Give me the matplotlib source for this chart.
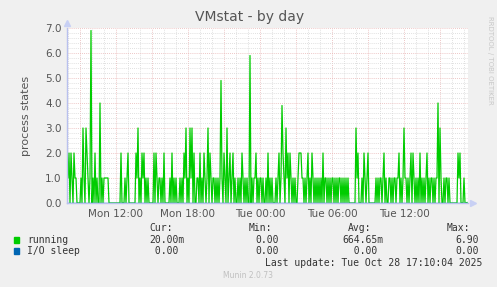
import numpy as np
import matplotlib
matplotlib.use("Agg")
import matplotlib.pyplot as plt
from matplotlib.patches import Rectangle

# running processes, one sample per 5 minutes
running = [
    2, 1, 2, 0, 2, 1, 0, 2, 1, 1, 0, 0, 0,
    0, 1, 0, 3, 1, 0, 3, 2, 1, 0,
    1, 6.9, 0, 1, 0, 2, 0, 1, 0, 0,
    4, 0, 1, 0, 1, 1, 1, 1, 1, 0,
    0, 0, 0, 0, 0, 0, 0, 0, 0, 0,
    0, 2, 0, 0, 0, 1, 0, 1, 2, 0,
    0, 0, 0, 0, 0, 0,
    2, 1, 3, 0, 1, 0, 2, 1, 2, 0, 1, 0, 1, 0,
    0, 0, 0, 0,
    2, 0, 2, 1, 0, 1, 1, 0, 1, 0, 2, 0, 0, 0, 0, 0,
    1, 0, 2, 0, 1, 0, 1, 0, 0, 0,
    1, 0, 1, 0, 2, 1, 3, 0, 1, 0,
    3, 1, 3, 0, 2, 0, 0, 1, 1, 0,
    2, 0, 1, 0, 2, 1, 0, 1, 3, 0,
    2, 1, 0, 1, 1, 0, 1, 0, 1, 0,
    1, 4.9, 1, 0, 2, 1, 0, 3, 0, 1,
    2, 0, 1, 2, 0, 1, 0, 0, 1, 0,
    1, 0, 2, 1, 0, 1, 0, 1, 0, 0,
    5.9, 0, 1, 0, 1, 1, 2, 0, 1, 0,
    1, 1, 0, 1, 0, 0, 1, 0, 2, 0,
    1, 0, 1, 0, 0, 0, 1, 0, 1, 2,
    0, 1, 3.9, 2, 1, 0, 3, 1, 2, 0,
    2, 1, 0, 1, 0, 1, 0, 0, 1, 2,
    2, 2, 1, 1, 0, 1, 0, 1, 2, 0,
    1, 0, 2, 1, 0, 1, 0, 1, 0, 1,
    0, 1, 0, 2, 0, 1, 1, 0, 1, 0,
    1, 0, 1, 1, 0, 1, 0, 1, 0, 1,
    1, 0, 1, 0, 1, 0, 1, 0, 1, 0,
    0, 0, 0, 0, 0, 0,
    3, 1, 2, 0, 0, 0, 1, 0, 2, 1, 0, 1, 2, 0,
    0, 0, 0, 0, 0, 0,
    1, 0, 1, 0, 1, 1, 0, 1, 2, 0, 1, 0, 0, 1,
    1, 0, 1, 0, 1, 1, 0, 1, 1, 2,
    0, 1, 0, 1, 3, 1, 1, 0, 1, 0,
    1, 2, 0, 2, 1, 0, 1, 0, 1, 0,
    2, 0, 1, 0, 1, 0, 1, 2, 0, 1,
    0, 1, 1, 0, 1, 0, 1, 1, 4, 0,
    3, 1, 0, 0, 1, 0, 1, 1, 0, 1,
    0, 0, 0, 0, 0, 0, 0, 0, 2, 1,
    2, 0, 0, 0, 1, 0, 0, 0.02,
]
io_sleep = [0] * len(running)

tick_hours = [12, 18, 24, 30, 36]
tick_labels = ["Mon 12:00", "Mon 18:00", "Tue 00:00", "Tue 06:00", "Tue 12:00"]
y_ticks = [0, 1, 2, 3, 4, 5, 6, 7]

legend_names = ["running", "I/O sleep"]
legend_colors = ["#00CC00", "#0066B3"]
cur = ["20.00m", " 0.00"]
mins = ["0.00", "0.00"]
avgs = ["664.65m", "  0.00"]
maxs = ["6.90", "0.00"]

W, H = 497, 287
fig = plt.figure(figsize=(W / 100, H / 100), dpi=100, facecolor="#F0F0F0")
ax = fig.add_axes([67 / W, 1 - 203 / H, 401 / W, 175 / H])
ax.set_facecolor("#FFFFFF")

t0 = 7.92
times = t0 + np.arange(len(running)) * 5 / 60
ax.plot(times, running, color="#00CC00", lw=0.9, zorder=3)
ax.plot(times, io_sleep, color="#0066B3", lw=1, zorder=3)

ax.set_xlim(t0, t0 + 401 * 5 / 60)
ax.set_ylim(0, 7.0)

# grid: minor grey every hour / 0.2, major red every 3h / 1.0
for h in np.arange(8, 42, 1):
    c = "#E8B4B4" if h % 3 == 0 else "#D6D6D6"
    ax.axvline(h, color=c, lw=0.6, ls=(0, (1, 1.5)), zorder=1)
for v in np.arange(0.2, 7.01, 0.2):
    major = abs(v - round(v)) < 1e-6
    c = "#E8B4B4" if major else "#D6D6D6"
    ax.axhline(v, color=c, lw=0.6, ls=(0, (1, 1.5)), zorder=1)

ax.set_xticks(tick_hours)
ax.set_xticklabels(tick_labels)
ax.set_yticks(y_ticks)
ax.set_yticklabels(["%.1f" % v for v in y_ticks])
ax.tick_params(length=0, labelsize=7.5, colors="#555555", pad=4)

for s in ["top", "right"]:
    ax.spines[s].set_visible(False)
for s in ["left", "bottom"]:
    ax.spines[s].set_color("#B8C0EE")
    ax.spines[s].set_linewidth(1)
    ax.spines[s].set_zorder(4)
ax.plot([0], [1.03], marker="^", ms=4, color="#C8D0F4", transform=ax.transAxes, clip_on=False)
ax.plot([1.012], [0], marker=">", ms=4, color="#C8D0F4", transform=ax.transAxes, clip_on=False)

ax.set_ylabel("process states", fontsize=8, color="#555555", labelpad=10)

fig.text(250 / W, 1 - 17 / H, "VMstat - by day", ha="center", va="center",
         fontsize=10, color="#555555")
fig.text(490 / W, 1 - 60 / H, "RRDTOOL / TOBI OETIKER", rotation=270,
         ha="center", va="center", fontsize=5, color="#C8C8C8")

mono = "DejaVu Sans Mono"
tc = "#333333"
fs = 7
hy = 1 - 228 / H
for x, s in [(149, "Cur:"), (249, "Min:"), (348, "Avg:"), (447, "Max:")]:
    fig.text(x / W, hy, s, family=mono, fontsize=fs, color=tc, va="center")

rows_y = [240, 251]
for i in range(2):
    y = 1 - rows_y[i] / H
    fig.patches.append(Rectangle((14 / W, y - 3 / H), 5 / W, 6 / H,
                                 transform=fig.transFigure, color=legend_colors[i]))
    fig.text(27 / W, y, legend_names[i], family=mono, fontsize=fs, color=tc, va="center")
    fig.text(149 / W, y, cur[i], family=mono, fontsize=fs, color=tc, va="center")
    fig.text(255 / W, y, mins[i], family=mono, fontsize=fs, color=tc, va="center")
    fig.text(342 / W, y, avgs[i], family=mono, fontsize=fs, color=tc, va="center")
    fig.text(455 / W, y, maxs[i], family=mono, fontsize=fs, color=tc, va="center")

fig.text(482 / W, 1 - 263 / H, "Last update: Tue Oct 28 17:10:04 2025",
         family=mono, fontsize=fs, color=tc, va="center", ha="right")
fig.text(248 / W, 1 - 276 / H, "Munin 2.0.73", ha="center", va="center",
         fontsize=5.5, color="#C0C0C0")

fig.savefig("out.png", dpi=100, facecolor=fig.get_facecolor())
